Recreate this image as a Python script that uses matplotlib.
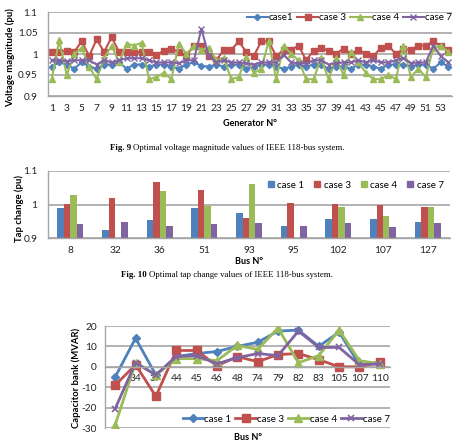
import matplotlib
matplotlib.use("Agg")
import matplotlib.pyplot as plt
import numpy as np
from matplotlib.patches import Patch

plt.rcParams['font.family'] = ['Lato', 'DejaVu Sans']

W, H = 454, 441

# ---------------- Data ----------------
generators = list(range(1, 55))
v_case1 = [0.970, 0.980, 0.975, 0.965, 0.980, 0.970, 0.965, 0.975, 0.975, 0.980,
           0.965, 0.975, 0.975, 0.970, 0.975, 0.975, 0.970, 0.965, 0.975, 0.980,
           0.972, 0.970, 0.975, 0.970, 0.975, 0.975, 0.965, 0.970, 0.975, 0.975,
           0.970, 0.965, 0.970, 0.975, 0.970, 0.975, 0.975, 0.965, 0.970, 0.970,
           0.965, 0.975, 0.975, 0.970, 0.965, 0.975, 0.975, 0.975, 0.970, 0.975,
           0.975, 0.965, 0.980, 0.970]
v_case3 = [1.005, 1.005, 1.008, 1.005, 1.030, 0.995, 1.035, 1.005, 1.040, 1.005,
           1.005, 1.005, 1.005, 1.005, 0.998, 1.008, 1.012, 1.005, 0.995, 1.020,
           1.020, 0.995, 0.985, 1.010, 1.010, 1.030, 1.005, 0.995, 1.030, 1.030,
           0.995, 1.010, 1.010, 1.020, 0.985, 1.008, 1.015, 1.008, 1.000, 1.013,
           1.000, 1.010, 1.000, 0.995, 1.015, 1.020, 1.000, 1.012, 1.010, 1.020,
           1.020, 1.030, 1.020, 1.010]
v_case4 = [0.940, 1.033, 0.950, 1.000, 1.015, 0.970, 0.940, 0.990, 1.020, 0.980,
           1.025, 1.020, 1.027, 0.940, 0.945, 0.955, 0.940, 1.025, 1.000, 1.020,
           1.010, 1.015, 0.985, 0.990, 0.940, 0.945, 0.993, 0.955, 0.965, 1.030,
           0.940, 1.020, 1.000, 0.985, 0.940, 0.940, 0.990, 0.940, 0.990, 0.950,
           1.005, 0.980, 0.955, 0.940, 0.940, 0.950, 0.940, 1.020, 0.945, 0.965,
           0.945, 1.015, 1.020, 1.005]
v_case7 = [0.985, 0.985, 0.983, 0.985, 0.985, 0.985, 0.975, 0.985, 0.980, 0.985,
           0.990, 0.990, 0.990, 0.985, 0.980, 0.980, 0.980, 0.978, 0.985, 0.985,
           1.060, 0.995, 0.980, 0.985, 0.980, 0.980, 0.978, 0.975, 0.980, 0.980,
           0.980, 0.998, 0.980, 0.978, 0.978, 0.985, 0.985, 0.975, 0.978, 0.980,
           0.980, 0.985, 0.980, 0.985, 0.980, 0.980, 0.985, 0.990, 0.978, 0.980,
           0.980, 1.020, 0.995, 0.980]

tap_buses = ['8', '32', '36', '51', '93', '95', '102', '107', '127']
tap_case1 = [0.991, 0.924, 0.955, 0.991, 0.974, 0.935, 0.956, 0.958, 0.947]
tap_case3 = [1.002, 1.018, 1.067, 1.043, 0.961, 1.005, 1.001, 0.998, 0.992]
tap_case4 = [1.027, np.nan, 1.040, 0.995, 1.061, np.nan, 0.994, 0.967, 0.994]
tap_case7 = [0.941, 0.948, 0.937, 0.943, 0.946, 0.935, 0.944, 0.933, 0.944]

cap_buses = ['5', '34', '37', '44', '45', '46', '48', '74', '79', '82', '83', '105', '107', '110']
cap_case1 = [-5, 14, -4, 5, 6.5, 7.5, 10, 12, 17.5, 18, 10, 17, 1, 1.5]
cap_case3 = [-9, 1, -14.5, 8, 8, 0.5, 5, 2.5, 6, 6.5, 3.5, 0, 0, 2.5]
cap_case4 = [-28.5, 2, -4, 4, 4, 3, 10.5, 8.5, 19, 2, 5.5, 18, 3, 1.5]
cap_case7 = [-20.5, 2, -4, 5, 5.5, 1.5, 4.5, 6.5, 5.5, 17.5, 9.5, 9.5, 1, 1.5]

C1, C3, C4, C7 = '#4F81BD', '#C0504D', '#9BBB59', '#8064A2'
GRID = '#A6A6A6'

fig = plt.figure(figsize=(W / 100, H / 100), dpi=100)


def rect(l, t, r, b):
    return [l / W, 1 - b / H, (r - l) / W, (b - t) / H]


def style(ax):
    for s in ['top', 'right']:
        ax.spines[s].set_visible(False)
    ax.spines['left'].set_color(GRID)
    ax.spines['bottom'].set_color(GRID)
    ax.spines['left'].set_linewidth(1.0)
    ax.spines['bottom'].set_linewidth(1.0)
    ax.yaxis.grid(True, color=GRID, linewidth=1.2)
    ax.set_axisbelow(True)
    ax.tick_params(length=0, colors='#222222')


def ylab(x, y, s, fs=6.8):
    fig.text(x / W, 1 - y / H, s, fontsize=fs, fontweight='bold', rotation=90,
             ha='center', va='center')


# ---------------- Chart 1 ----------------
ax1 = fig.add_axes(rect(48, 12, 452, 96))
style(ax1)
ax1.plot(generators, v_case1, color=C1, lw=1.5, marker='D', ms=3.2, label='case1')
ax1.plot(generators, v_case3, color=C3, lw=1.5, marker='s', ms=4.8, label='case 3')
ax1.plot(generators, v_case4, color=C4, lw=1.5, marker='^', ms=4.5, label='case 4')
ax1.plot(generators, v_case7, color=C7, lw=1.5, marker='x', ms=4, mew=1.0, label='case 7')
ax1.set_xlim(0.5, 54.5)
ax1.set_ylim(0.9, 1.1)
ax1.set_yticks([0.9, 0.95, 1.0, 1.05, 1.1])
ax1.set_yticklabels(['0.9', '0.95', '1', '1.05', '1.1'], fontsize=7.2)
ax1.set_xticks(list(range(1, 55, 2)))
ax1.set_xticklabels([str(i) for i in range(1, 55, 2)], fontsize=7.3)
ax1.tick_params(axis='y', pad=7.5)
ax1.tick_params(axis='x', pad=6)
ax1.set_xlabel('Generator N°', fontsize=6.5, fontweight='bold', labelpad=4)
ylab(10.5, 58, 'Voltage magnitude (pu)')
ax1.legend(loc='center right', bbox_to_anchor=(452 / W, 1 - 18 / H), bbox_transform=fig.transFigure,
           ncol=4, frameon=False, fontsize=7, handlelength=2.1, handletextpad=0.15,
           columnspacing=0.4, borderpad=0, borderaxespad=0)

# ---------------- Chart 2 ----------------
ax2 = fig.add_axes(rect(48, 171, 450, 238))
style(ax2)
x = np.arange(len(tap_buses))
bw = 0.145
for i, (vals, col, lab) in enumerate([(tap_case1, C1, 'case 1'), (tap_case3, C3, 'case 3'),
                                     (tap_case4, C4, 'case 4'), (tap_case7, C7, 'case 7')]):
    ax2.bar(x + (i - 1.5) * bw, np.array(vals) - 0.9, bottom=0.9, width=bw, color=col, label=lab)
ax2.set_xlim(-0.5, len(tap_buses) - 0.5)
ax2.set_ylim(0.9, 1.1)
ax2.set_yticks([0.9, 1.0, 1.1])
ax2.set_yticklabels(['0.9', '1', '1.1'], fontsize=7.3)
ax2.set_xticks(x)
ax2.set_xticklabels(tap_buses, fontsize=7.3)
ax2.tick_params(axis='y', pad=7.5)
ax2.tick_params(axis='x', pad=6)
ax2.set_xlabel('Bus N°', fontsize=6.5, fontweight='bold', labelpad=1)
ylab(19, 208, 'Tap change (pu)')
handles2 = [Patch(color=c) for c in [C1, C3, C4, C7]]
ax2.legend(handles2, ['case 1', 'case 3', 'case 4', 'case 7'], loc='center right',
           bbox_to_anchor=(444 / W, 1 - 185 / H), bbox_transform=fig.transFigure,
           ncol=4, frameon=False, fontsize=7, handlelength=0.6, handleheight=0.6,
           handletextpad=0.4, columnspacing=1.0, borderpad=0, borderaxespad=0)

# ---------------- Chart 3 ----------------
ax3 = fig.add_axes(rect(105, 326, 390, 428))
style(ax3)
xc = np.arange(len(cap_buses))
ax3.plot(xc, cap_case1, color=C1, lw=2, marker='D', ms=4.5, label='case 1')
ax3.plot(xc, cap_case3, color=C3, lw=2, marker='s', ms=6, label='case 3')
ax3.plot(xc, cap_case4, color=C4, lw=2, marker='^', ms=6, label='case 4')
ax3.plot(xc, cap_case7, color=C7, lw=2, marker='x', ms=5, mew=1.2, label='case 7')
ax3.set_xlim(-0.5, len(cap_buses) - 0.5)
ax3.set_ylim(-30, 20)
ax3.set_yticks([-30, -20, -10, 0, 10, 20])
ax3.set_yticklabels(['-30', '-20', '-10', '0', '10', '20'], fontsize=7.3)
ax3.spines['bottom'].set_position(('data', 0))
ax3.set_xticks(xc)
ax3.set_xticklabels(cap_buses, fontsize=7.3)
ax3.tick_params(axis='y', pad=5.8)
ax3.tick_params(axis='x', pad=5)
ylab(76, 378, 'Capacitor bank (MVAR)')
fig.text(248 / W, 1 - 437 / H, 'Bus N°', fontsize=6.5, fontweight='bold', ha='center', va='center')
ax3.legend(loc='center right', bbox_to_anchor=(390 / W, 1 - 419 / H), bbox_transform=fig.transFigure,
           ncol=4, frameon=False, fontsize=7, handlelength=2.1, handletextpad=0.15,
           columnspacing=0.4, borderpad=0, borderaxespad=0)

# ---------------- Captions ----------------
renderer = fig.canvas.get_renderer()


def caption(x0, y, bold, rest):
    t = fig.text(x0 / W, 1 - y / H, bold, fontsize=6.3, fontweight='bold',
                 family='Liberation Serif', ha='left', va='center')
    bb = t.get_window_extent(renderer=renderer)
    fig.text((bb.x1 + 2) / W, 1 - y / H, rest, fontsize=6.3, family='Liberation Serif',
             ha='left', va='center')


caption(110, 148, 'Fig. 9', 'Optimal voltage magnitude values of IEEE 118-bus system.')
caption(121, 275, 'Fig. 10', 'Optimal tap change values of IEEE 118-bus system.')

fig.savefig('out.png', dpi=100)
